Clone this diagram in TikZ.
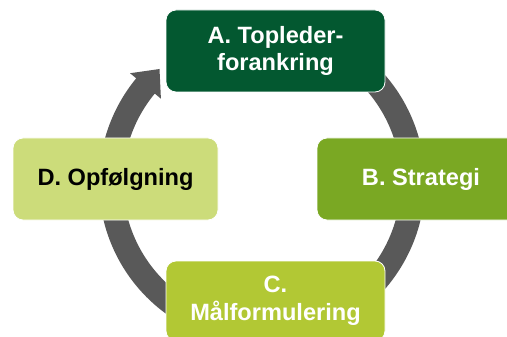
\documentclass[tikz,border=0pt]{standalone}
\usepackage{fontspec}
\setmainfont{Liberation Sans}
\definecolor{cA}{RGB}{3,88,48}
\definecolor{cB}{RGB}{122,168,35}
\definecolor{cC}{RGB}{178,200,52}
\definecolor{cD}{RGB}{204,220,122}
\definecolor{ringgray}{RGB}{89,89,89}
\begin{document}
\begin{tikzpicture}[x=1pt,y=-1pt,
  box/.style={rounded corners=10pt, minimum height=82pt, align=center,
    font=\fontsize{23.6}{27.5}\selectfont\bfseries, inner sep=0pt,
    draw=white, line width=0.8pt},
  ringfill/.style={fill=ringgray}
]
\useasboundingbox (0,0) rectangle (507,337);
% circular arrow
\begin{scope}[shift={(262,182)}]
  \fill[ringfill] (-60:163) arc[start angle=-60, end angle=219.5, radius=163]
    -- (219.5:171) -- (-102.5,-113) -- (219.5:131) -- (219.5:139)
    arc[start angle=219.5, end angle=-60, radius=139] -- cycle;
\end{scope}
% boxes
\node[box, fill=cA, text=white, minimum width=219pt] (a) at (275.5,51) {A. Topleder-\\forankring};
\node[box, fill=cB, text=white, minimum width=208pt] (b) at (421,179) {B. Strategi};
\node[box, fill=cC, text=white, minimum width=219pt, minimum height=80pt] (c) at (275.5,301) {C.\\Målformulering};
\node[box, fill=cD, text=black, minimum width=205pt] (d) at (115.5,179) {D. Opfølgning};
\end{tikzpicture}
\end{document}
